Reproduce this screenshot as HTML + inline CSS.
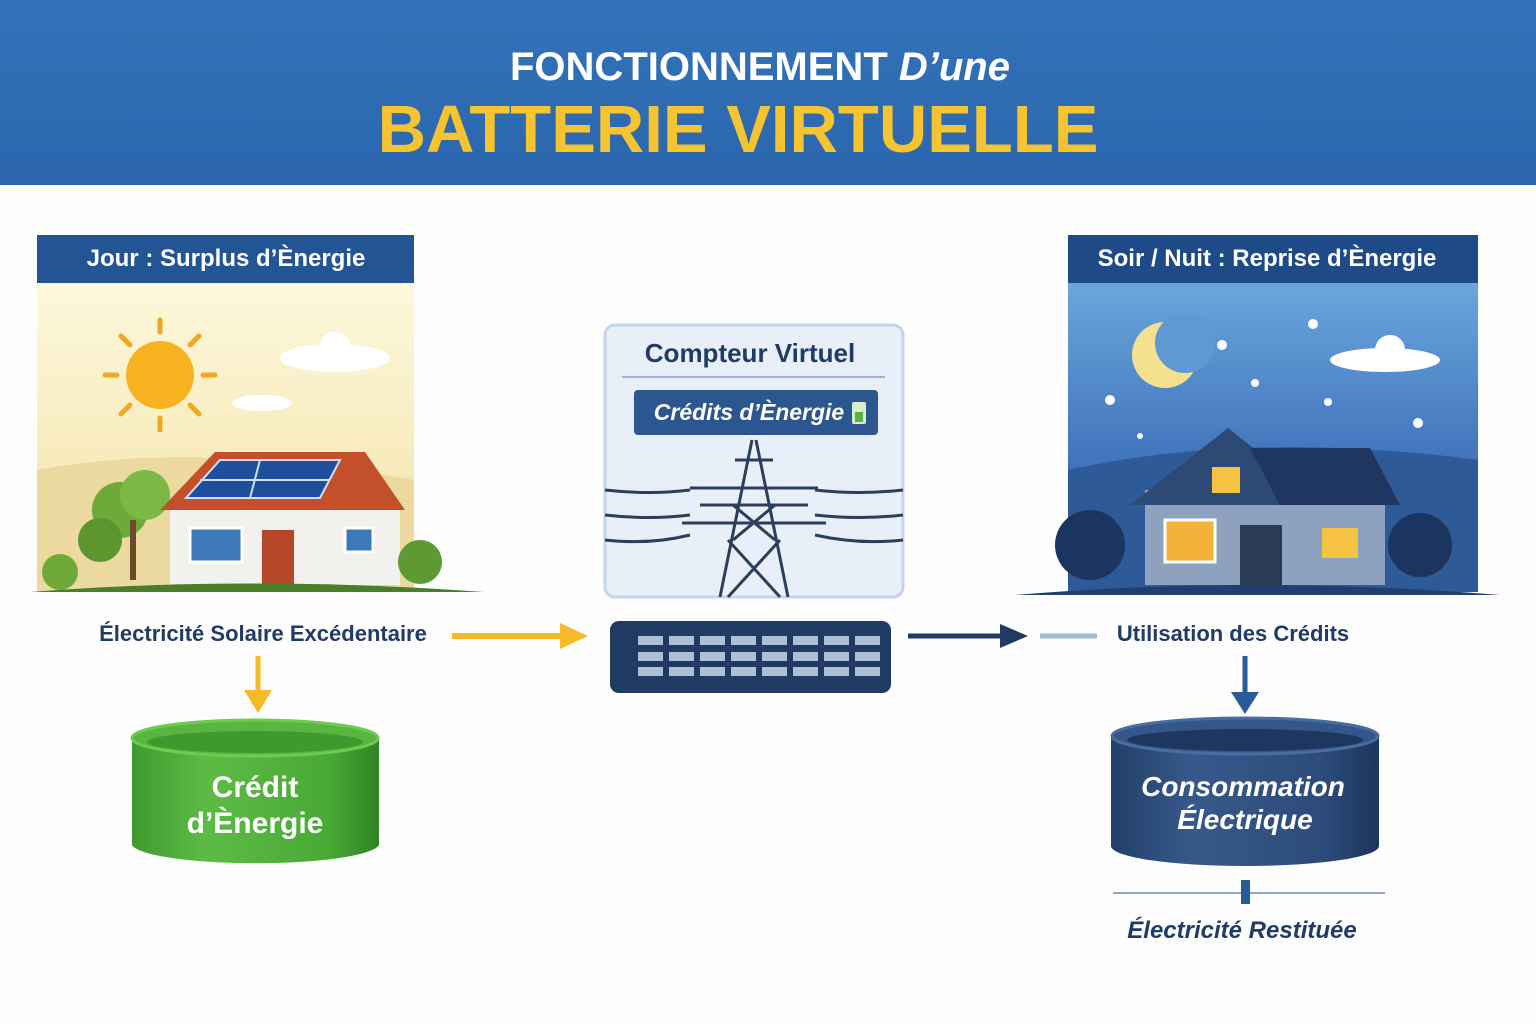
<!DOCTYPE html>
<html><head><meta charset="utf-8"><style>
html,body{margin:0;padding:0;background:#fdfdfd;}
svg{display:block}
text{font-family:"Liberation Sans","DejaVu Sans",sans-serif;}
</style></head><body>
<svg width="1536" height="1024" viewBox="0 0 1536 1024" xmlns="http://www.w3.org/2000/svg">
<defs>
<linearGradient id="hdr" x1="0" y1="0" x2="0" y2="1"><stop offset="0" stop-color="#3373b9"/><stop offset="1" stop-color="#2b66ad"/></linearGradient>
<linearGradient id="day" x1="0" y1="0" x2="0" y2="1"><stop offset="0" stop-color="#fdf8dc"/><stop offset="1" stop-color="#f3e2a6"/></linearGradient>
<linearGradient id="night" x1="0" y1="0" x2="0" y2="1"><stop offset="0" stop-color="#6aa6dc"/><stop offset="0.6" stop-color="#3f72bb"/><stop offset="1" stop-color="#2b559a"/></linearGradient>
<linearGradient id="grn" x1="0" y1="0" x2="1" y2="0"><stop offset="0" stop-color="#3e9a2e"/><stop offset="0.3" stop-color="#5cbb45"/><stop offset="0.8" stop-color="#4aa936"/><stop offset="1" stop-color="#2f8422"/></linearGradient>
<linearGradient id="nav" x1="0" y1="0" x2="1" y2="0"><stop offset="0" stop-color="#223f69"/><stop offset="0.3" stop-color="#37598a"/><stop offset="0.8" stop-color="#2c4b7a"/><stop offset="1" stop-color="#1c355c"/></linearGradient>
</defs>
<rect width="1536" height="1024" fill="#fdfdfd"/>
<rect width="1536" height="185" fill="url(#hdr)"/>
<text x="760" y="80" text-anchor="middle" font-size="40" font-weight="bold" fill="#fff">FONCTIONNEMENT <tspan font-style="italic">D’une</tspan></text>
<text x="738" y="152" text-anchor="middle" font-size="67" font-weight="bold" fill="#f6c431">BATTERIE VIRTUELLE</text>

<rect x="37" y="283" width="377" height="309" fill="url(#day)"/>
<rect x="37" y="235" width="377" height="48" fill="#235595"/>
<text x="226" y="266" text-anchor="middle" font-size="24" font-weight="bold" fill="#fff">Jour : Surplus d’Ènergie</text>
<g stroke="#f2a81d" stroke-width="5" stroke-linecap="round">
<line x1="160" y1="320" x2="160" y2="332"/><line x1="160" y1="418" x2="160" y2="430"/>
<line x1="105" y1="375" x2="117" y2="375"/><line x1="203" y1="375" x2="215" y2="375"/>
<line x1="121" y1="336" x2="130" y2="345"/><line x1="190" y1="405" x2="199" y2="414"/>
<line x1="199" y1="336" x2="190" y2="345"/><line x1="130" y1="405" x2="121" y2="414"/>
</g>
<circle cx="160" cy="375" r="34" fill="#f6b21f"/>
<ellipse cx="335" cy="358" rx="55" ry="14" fill="#fff"/><circle cx="335" cy="348" r="16" fill="#fff"/>
<ellipse cx="262" cy="403" rx="30" ry="8" fill="#fff"/>
<path d="M37 470 Q200 440 414 480 L414 592 L37 592Z" fill="#ecd9a0"/>
<circle cx="120" cy="510" r="28" fill="#6ea93a"/><circle cx="145" cy="495" r="25" fill="#7cb844"/><circle cx="100" cy="540" r="22" fill="#5d9630"/>
<rect x="130" y="520" width="6" height="60" fill="#6b4a2b"/>
<rect x="170" y="505" width="230" height="80" fill="#f3f1ee"/>
<polygon points="160,510 215,452 365,452 405,510" fill="#c4502b"/>
<polygon points="186,498 220,460 340,460 320,498" fill="#1f4f9a" stroke="#cfe0f5" stroke-width="2"/>
<line x1="200" y1="480" x2="330" y2="480" stroke="#cfe0f5" stroke-width="2"/><line x1="260" y1="460" x2="250" y2="498" stroke="#cfe0f5" stroke-width="2"/>
<rect x="190" y="528" width="52" height="34" fill="#3d78b8" stroke="#fff" stroke-width="3"/>
<rect x="262" y="530" width="32" height="55" fill="#b6452a"/>
<rect x="345" y="528" width="28" height="24" fill="#3d78b8" stroke="#fff" stroke-width="3"/>
<circle cx="420" cy="562" r="22" fill="#5e9a33"/><circle cx="60" cy="572" r="18" fill="#6ea93a"/>
<path d="M30 592 Q250 575 484 592Z" fill="#4a7f2a"/>

<rect x="605" y="325" width="298" height="272" rx="10" fill="#e8eff8" stroke="#c4d5ea" stroke-width="3"/>
<text x="750" y="362" text-anchor="middle" font-size="26" font-weight="bold" fill="#1f3b66">Compteur Virtuel</text>
<line x1="622" y1="377" x2="885" y2="377" stroke="#9db2cf" stroke-width="2"/>
<rect x="634" y="390" width="244" height="45" rx="4" fill="#2c5690"/>
<text x="749" y="420" text-anchor="middle" font-size="23" font-weight="bold" font-style="italic" fill="#fff">Crédits d’Ènergie</text>
<rect x="852" y="402" width="14" height="22" rx="2" fill="#d8efc8"/><rect x="855" y="412" width="8" height="10" fill="#5cb044"/>
<g stroke="#2b3f5c" stroke-width="3" fill="none">
<path d="M605 490 Q650 495 690 490 M605 515 Q650 520 690 515 M605 540 Q650 545 690 535 M815 490 Q860 495 903 490 M815 515 Q860 520 903 515 M815 535 Q860 545 903 540"/>
<path d="M752 440 L720 597 M756 440 L788 597 M690 488 L818 488 M700 505 L808 505 M682 523 L826 523 M735 460 L773 460"/>
<path d="M728 540 L780 597 M780 540 L728 597 M733 505 L775 540 M775 505 L733 540"/>
</g>
<rect x="610" y="621" width="281" height="72" rx="9" fill="#1f3a63"/>
<g fill="#aebfd6">
<rect x="638" y="636" width="25" height="9"/><rect x="669" y="636" width="25" height="9"/><rect x="700" y="636" width="25" height="9"/><rect x="731" y="636" width="25" height="9"/><rect x="762" y="636" width="25" height="9"/><rect x="793" y="636" width="25" height="9"/><rect x="824" y="636" width="25" height="9"/><rect x="855" y="636" width="25" height="9"/>
<rect x="638" y="652" width="25" height="9"/><rect x="669" y="652" width="25" height="9"/><rect x="700" y="652" width="25" height="9"/><rect x="731" y="652" width="25" height="9"/><rect x="762" y="652" width="25" height="9"/><rect x="793" y="652" width="25" height="9"/><rect x="824" y="652" width="25" height="9"/><rect x="855" y="652" width="25" height="9"/>
<rect x="638" y="667" width="25" height="9"/><rect x="669" y="667" width="25" height="9"/><rect x="700" y="667" width="25" height="9"/><rect x="731" y="667" width="25" height="9"/><rect x="762" y="667" width="25" height="9"/><rect x="793" y="667" width="25" height="9"/><rect x="824" y="667" width="25" height="9"/><rect x="855" y="667" width="25" height="9"/>
</g>

<rect x="1068" y="283" width="410" height="309" fill="url(#night)"/>
<rect x="1068" y="235" width="410" height="48" fill="#1f4a88"/>
<text x="1267" y="266" text-anchor="middle" font-size="24" font-weight="bold" fill="#fff">Soir / Nuit : Reprise d’Ènergie</text>
<circle cx="1165" cy="355" r="33" fill="#f5e08f"/><circle cx="1185" cy="343" r="30" fill="#5f98d2"/>
<ellipse cx="1385" cy="360" rx="55" ry="12" fill="#fff"/><circle cx="1390" cy="350" r="15" fill="#fff"/>
<g fill="#fff"><circle cx="1222" cy="345" r="5"/><circle cx="1313" cy="324" r="5"/><circle cx="1255" cy="383" r="4"/><circle cx="1110" cy="400" r="5"/><circle cx="1328" cy="402" r="4"/><circle cx="1418" cy="423" r="5"/><circle cx="1140" cy="436" r="3"/></g>
<path d="M1068 470 Q1250 430 1478 460 L1478 592 L1068 592Z" fill="#2f5a98"/>
<circle cx="1090" cy="545" r="35" fill="#1b3560"/><circle cx="1420" cy="545" r="32" fill="#1b3560"/>
<rect x="1145" y="490" width="240" height="95" fill="#8ea2bf"/>
<polygon points="1130,505 1228,428 1325,505" fill="#2d4a75"/>
<polygon points="1250,448 1370,448 1400,505 1280,505" fill="#1f3760"/>
<rect x="1165" y="520" width="50" height="42" fill="#f5b23a" stroke="#fff" stroke-width="3"/>
<rect x="1212" y="467" width="28" height="26" fill="#f5c242"/>
<rect x="1240" y="525" width="42" height="60" fill="#2a3b55"/>
<rect x="1322" y="528" width="36" height="30" fill="#f5c242"/>
<path d="M1015 595 Q1250 575 1500 595Z" fill="#1f3f70"/>

<text x="263" y="641" text-anchor="middle" font-size="22" font-weight="bold" fill="#1f3b66">Électricité Solaire Excédentaire</text>
<line x1="452" y1="636" x2="565" y2="636" stroke="#f6b92a" stroke-width="6"/>
<polygon points="560,623 588,636 560,649" fill="#f6b92a"/>
<line x1="908" y1="636" x2="1005" y2="636" stroke="#1f3a63" stroke-width="5"/>
<polygon points="1000,624 1028,636 1000,648" fill="#1f3a63"/>
<line x1="1040" y1="636" x2="1097" y2="636" stroke="#9fbbd8" stroke-width="5"/>
<text x="1233" y="641" text-anchor="middle" font-size="22" font-weight="bold" fill="#1f3b66">Utilisation des Crédits</text>
<line x1="258" y1="656" x2="258" y2="695" stroke="#f6b92a" stroke-width="5"/>
<polygon points="244,690 258,713 272,690" fill="#f6b92a"/>
<line x1="1245" y1="656" x2="1245" y2="695" stroke="#2b5a9b" stroke-width="5"/>
<polygon points="1231,692 1245,714 1259,692" fill="#2b5a9b"/>

<path d="M132 738 L132 845 A124 20 0 0 0 379 845 L379 738Z" fill="url(#grn)"/>
<ellipse cx="255" cy="738" rx="123" ry="18" fill="#58b640" stroke="#6ccc50" stroke-width="3"/>
<ellipse cx="255" cy="742" rx="108" ry="11" fill="#3f9a2d"/>
<text x="255" y="797" text-anchor="middle" font-size="30" font-weight="bold" fill="#fff">Crédit</text>
<text x="255" y="833" text-anchor="middle" font-size="30" font-weight="bold" fill="#fff">d’Ènergie</text>

<path d="M1111 736 L1111 846 A134 20 0 0 0 1379 846 L1379 736Z" fill="url(#nav)"/>
<ellipse cx="1245" cy="736" rx="133" ry="18" fill="#34568a" stroke="#4a6c9f" stroke-width="3"/>
<ellipse cx="1245" cy="740" rx="118" ry="11" fill="#1e3760"/>
<text x="1243" y="796" text-anchor="middle" font-size="28" font-weight="bold" font-style="italic" fill="#fff">Consommation</text>
<text x="1245" y="829" text-anchor="middle" font-size="28" font-weight="bold" font-style="italic" fill="#fff">Électrique</text>
<line x1="1113" y1="893" x2="1385" y2="893" stroke="#8fa6c4" stroke-width="2"/>
<rect x="1241" y="880" width="9" height="24" fill="#2b5a9b"/>
<text x="1242" y="938" text-anchor="middle" font-size="24" font-weight="bold" font-style="italic" fill="#1f3b66">Électricité Restituée</text>
</svg>
</body></html>
